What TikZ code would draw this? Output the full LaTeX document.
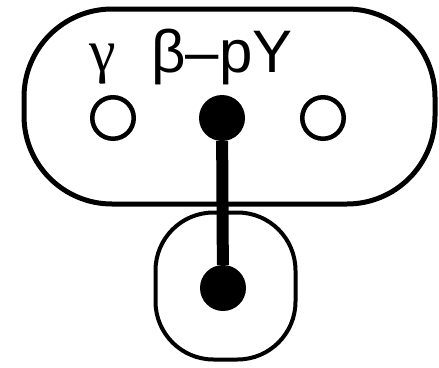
\documentclass[tikz,border=0pt]{standalone}
\usepackage{fontspec}
\setmainfont{Liberation Sans}
\newfontfamily\grkserif{Liberation Serif}
\usetikzlibrary{positioning}
\tikzset{
	box/.style={draw, line width=5pt, inner sep=0pt},
	opn/.style={draw, circle, line width=4.5pt, inner sep=0pt, minimum size=41.5pt},
	fil/.style={fill, circle, inner sep=0pt, minimum size=46pt},
	lab/.style={font=\fontsize{60}{60}\selectfont, inner sep=0pt, anchor=base},
}

\begin{document}
\begin{tikzpicture}[x=1pt, y=-1pt]
	\useasboundingbox (0,0) rectangle (439,367);
	\node[box, rounded corners=88pt, minimum width=411pt, minimum height=195pt] at (229.5,106.5) (cplx) {};
	\node[box, line width=4pt, rounded corners=58pt, minimum width=140pt, minimum height=147pt] at (225.5,286) (memb) {};
	\node[opn] at (113,118) (gam) {};
	\node[fil] at (222,118) (bet) {};
	\node[opn] at (323,118) (rgt) {};
	\node[fil] at (223,288) (anc) {};
	\draw[line width=12pt] (bet) -- (anc);
	\node[lab] at (103,71) (lgam) {\grkserif γ};
	\node[lab] at (222,72) (lbet) {β–pY};
\end{tikzpicture}
\end{document}
